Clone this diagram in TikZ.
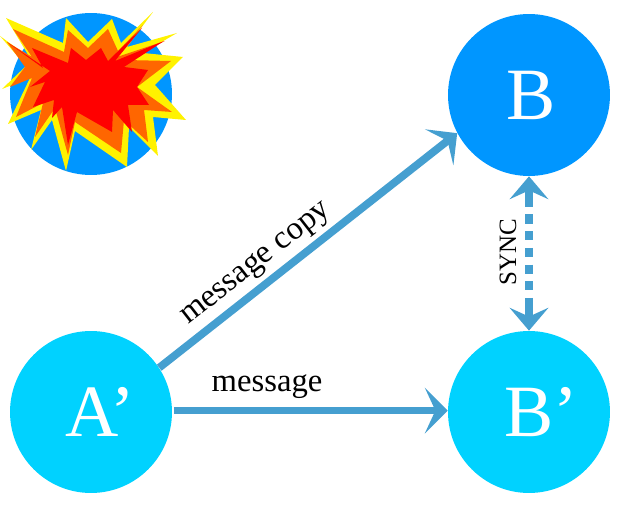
\documentclass[tikz,border=0pt]{standalone}
\usepackage{fontspec}
\setmainfont{Liberation Serif}
\usetikzlibrary{arrows.meta}
\definecolor{deadblue}{RGB}{0,150,255}
\definecolor{liveblue}{RGB}{0,210,255}
\definecolor{linkblue}{RGB}{69,159,208}
\definecolor{blastorange}{RGB}{255,102,0}
\tikzset{
  server/.style = {circle, minimum size = 3.24cm, inner sep = 0pt, text = white, font = \fontsize{42}{42}\selectfont},
  link/.style = {color = linkblue, line width = 4.4pt, -{Stealth[length = 13pt, width = 26pt, inset = 6pt]}},
  linklabel/.style = {font = \fontsize{18.6}{20}\selectfont, inner sep = 0pt}
}
\begin{document}
\begin{tikzpicture}[x = 0.02cm, y = -0.02cm]
\useasboundingbox (0,0) rectangle (622,509);
\node [server, fill = deadblue] (a) at (91,94) {};
\node [server, fill = deadblue] (b) at (529,95) {\hspace*{2pt}B};
\node [server, fill = liveblue] (ap) at (91,412) {\hspace*{11pt}A’};
\node [server, fill = liveblue] (bp) at (529,412) {\hspace*{14pt}B’};
\draw [link] (ap.33) -- (b.208);
\draw [link, shorten < = 1pt] (ap.1) -- (bp.179);
\draw [color = linkblue, line width = 4pt, dash pattern = on 10pt off 4.3pt on 5.2pt off 4.3pt on 5.2pt off 4.3pt on 5.2pt off 4.3pt on 5.2pt off 4.3pt on 5.2pt off 4.3pt on 12pt off 4pt, {Stealth[length = 13pt, width = 22pt, inset = 5pt]}-{Stealth[length = 13pt, width = 22pt, inset = 5pt]}] (b) -- (bp);
\node [linklabel] (msg) at (267,387) {message};
\node [linklabel, rotate = 38] (msgcopy) at (257,265) {message copy};
\node [linklabel, rotate = 90, font = \fontsize{14.2}{15}\selectfont] (sync) at (508,252) {SYNC};
% explosion over the dead server
\fill [yellow] (6,18) -- (63,43) -- (66,18) -- (88,42) -- (112,19) -- (121,43) -- (153,12) -- (127,47) -- (177,33) -- (143,53) -- (183,57) -- (155,85) -- (186,120) -- (153,117) -- (158,156) -- (129,127) -- (127,167) -- (75,131) -- (66,171) -- (52,120) -- (31,150) -- (41,110) -- (8,124) -- (30,78) -- (2,89) -- (26,66) -- (0,36) -- (30,58) -- cycle;
\fill [blastorange] (13,29) -- (64,52) -- (68,30) -- (88,48) -- (108,29) -- (118,51) -- (143,25) -- (117,57) -- (165,41) -- (125,60) -- (171,61) -- (137,87) -- (172,112) -- (144,110) -- (148,142) -- (124,120) -- (121,153) -- (75,122) -- (68,155) -- (55,108) -- (35,137) -- (43,103) -- (16,117) -- (32,78) -- (10,87) -- (25,67) -- (7,42) -- (32,57) -- cycle;
\fill [red] (32,48) -- (68,63) -- (71,48) -- (86,60) -- (101,48) -- (108,61) -- (142,28) -- (115,61) -- (164,41) -- (124,67) -- (148,70) -- (137,87) -- (149,105) -- (128,105) -- (132,132) -- (113,110) -- (112,132) -- (77,112) -- (68,145) -- (62,107) -- (52,118) -- (54,100) -- (33,107) -- (45,82) -- (30,87) -- (50,71) -- (7,42) -- (43,68) -- cycle;
\end{tikzpicture}
\end{document}
